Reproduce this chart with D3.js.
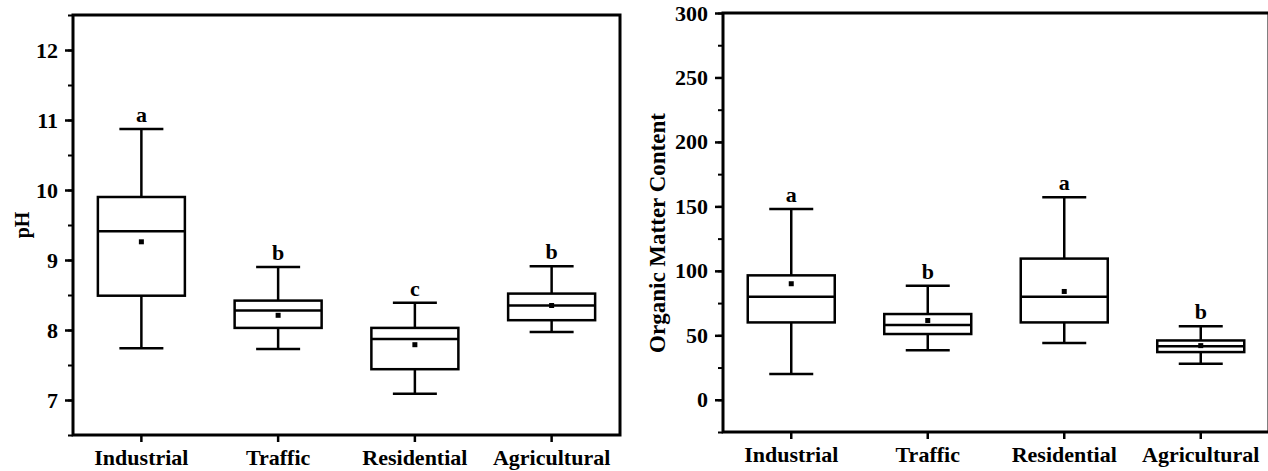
<!DOCTYPE html>
<html>
<head>
<meta charset="utf-8">
<script src="https://cdn.jsdelivr.net/npm/d3@7"></script>
<style>
  body { margin: 0; background: #fff; }
  svg { display: block; }
  text { font-family: "Liberation Serif", "Times New Roman", serif; font-weight: bold; fill: #000; }
</style>
</head>
<body>
<script>
const categories = ["Industrial", "Traffic", "Residential", "Agricultural"];

// pH
const phMin = [7.74, 7.73, 7.09, 7.97];
const phQ1 = [8.49, 8.03, 7.44, 8.14];
const phMedian = [9.41, 8.28, 7.87, 8.35];
const phQ3 = [9.90, 8.42, 8.03, 8.52];
const phMax = [10.87, 8.90, 8.39, 8.91];
const phMean = [9.26, 8.21, 7.79, 8.35];
const phLetters = ["a", "b", "c", "b"];
const phTicks = [7, 8, 9, 10, 11, 12];

// organic matter
const omMin = [20, 38.5, 44, 28];
const omQ1 = [60, 51, 60, 37];
const omMedian = [80, 58, 80, 41.5];
const omQ3 = [96.5, 66.5, 109.5, 46];
const omMax = [148, 88.5, 157, 57];
const omMean = [90, 61.5, 84, 42];
const omLetters = ["a", "b", "a", "b"];
const omTicks = [0, 50, 100, 150, 200, 250, 300];

const W = 1268, H = 471;
const svg = d3.select("body").append("svg").attr("width", W).attr("height", H);

function drawPanel(p) {
  const width = p.right - p.left, height = p.bottom - p.top;
  const g = svg.append("g").attr("transform", "translate(" + p.left + "," + p.top + ")");

  const x = d3.scaleBand().domain(categories).range([0, width]);
  const y = d3.scaleLinear().domain(p.domain).range([height, 0]);

  const boxW = 87, capW = 44;
  const stats = categories.map((c, i) => ({
    c: c, lo: p.min[i], q1: p.q1[i], med: p.median[i], q3: p.q3[i], hi: p.max[i], mean: p.mean[i], letter: p.letters[i]
  }));

  // minor ticks
  const minor = d3.range(p.domain[0], p.domain[1] + 1e-9, p.minorStep);
  g.append("g")
    .call(d3.axisLeft(y).tickValues(minor).tickSize(5).tickFormat(""))
    .call(a => a.select(".domain").remove())
    .selectAll("line").attr("stroke", "#000").attr("stroke-width", 2);

  // major ticks
  g.append("g")
    .call(d3.axisLeft(y).tickValues(p.ticks).tickSize(8).tickPadding(7).tickFormat(d3.format("d")))
    .call(a => a.select(".domain").remove())
    .call(a => a.selectAll("line").attr("stroke", "#000").attr("stroke-width", 2.5))
    .call(a => a.selectAll("text").style("font-size", "22px").attr("fill", "#000"));

  g.append("g")
    .attr("transform", "translate(0," + height + ")")
    .call(d3.axisBottom(x).tickSize(7).tickSizeOuter(0).tickPadding(7))
    .call(a => a.select(".domain").remove())
    .call(a => a.selectAll("line").attr("stroke", "#000").attr("stroke-width", 2.5))
    .call(a => a.selectAll("text").style("font-size", "22px").attr("fill", "#000"));

  const boxes = g.append("g").selectAll("g").data(stats).join("g")
    .attr("transform", d => "translate(" + (x(d.c) + x.bandwidth() / 2) + ",0)");

  boxes.append("line")
    .attr("y1", d => y(d.hi)).attr("y2", d => y(d.q3))
    .attr("stroke", "#000").attr("stroke-width", 2.5);
  boxes.append("line")
    .attr("y1", d => y(d.q1)).attr("y2", d => y(d.lo))
    .attr("stroke", "#000").attr("stroke-width", 2.5);
  boxes.append("line")
    .attr("x1", -capW / 2).attr("x2", capW / 2)
    .attr("y1", d => y(d.hi)).attr("y2", d => y(d.hi))
    .attr("stroke", "#000").attr("stroke-width", 2.5);
  boxes.append("line")
    .attr("x1", -capW / 2).attr("x2", capW / 2)
    .attr("y1", d => y(d.lo)).attr("y2", d => y(d.lo))
    .attr("stroke", "#000").attr("stroke-width", 2.5);
  boxes.append("rect")
    .attr("x", -boxW / 2).attr("width", boxW)
    .attr("y", d => y(d.q3)).attr("height", d => y(d.q1) - y(d.q3))
    .attr("fill", "none").attr("stroke", "#000").attr("stroke-width", 2.5);
  boxes.append("line")
    .attr("x1", -boxW / 2).attr("x2", boxW / 2)
    .attr("y1", d => y(d.med)).attr("y2", d => y(d.med))
    .attr("stroke", "#000").attr("stroke-width", 2.5);
  boxes.append("rect")
    .attr("x", -2.5).attr("width", 5)
    .attr("y", d => y(d.mean) - 2.5).attr("height", 5)
    .attr("fill", "#000");
  boxes.append("text")
    .attr("y", d => y(d.hi) - 7)
    .attr("text-anchor", "middle")
    .style("font-size", "22px")
    .text(d => d.letter);

  // frame
  g.append("rect")
    .attr("width", width).attr("height", height)
    .attr("fill", "none").attr("stroke", "#000").attr("stroke-width", 3);

  svg.append("text")
    .attr("transform", "translate(" + p.labelX + "," + p.labelY + ") rotate(-90)")
    .attr("text-anchor", "middle")
    .style("font-size", p.labelSize + "px")
    .text(p.label);
}

drawPanel({
  left: 73, right: 620, top: 15, bottom: 435,
  domain: [6.5, 12.5], ticks: phTicks, minorStep: 0.5,
  min: phMin, q1: phQ1, median: phMedian, q3: phQ3, max: phMax, mean: phMean, letters: phLetters,
  label: "pH", labelX: 29, labelY: 225, labelSize: 20
});

drawPanel({
  left: 723, right: 1269, top: 13, bottom: 432,
  domain: [-25, 300], ticks: omTicks, minorStep: 25,
  min: omMin, q1: omQ1, median: omMedian, q3: omQ3, max: omMax, mean: omMean, letters: omLetters,
  label: "Organic Matter Content", labelX: 665, labelY: 233, labelSize: 23
});
</script>
</body>
</html>
